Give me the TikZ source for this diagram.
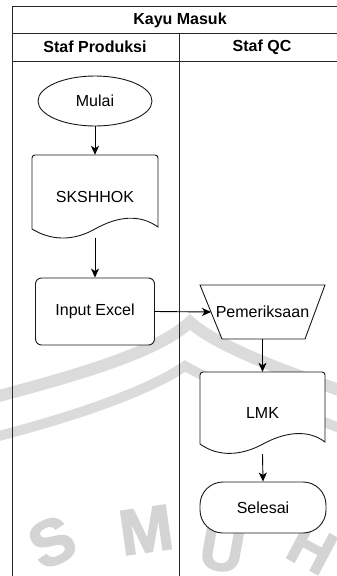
\documentclass[tikz,border=0pt]{standalone}
\usepackage{fontspec}
\setmainfont{Liberation Sans}
\newfontfamily\wmfont[BoldFeatures={FakeBold=2.5}]{Liberation Sans}
\usetikzlibrary{shapes.geometric,arrows.meta}
\begin{document}
\begin{tikzpicture}[x=1pt,y=-1pt,
  every node/.style={font=\fontsize{16}{19}\selectfont, inner sep=2pt},
  hdr/.style={font=\fontsize{16}{19}\selectfont\bfseries},
  lane/.style={line width=1pt, draw=black!85},
  box/.style={draw=black!90, line width=0.9pt, fill=white},
  flow/.style={line width=0.9pt, draw=black, -{Stealth[length=9pt,width=8pt,inset=2.5pt]}},
  wm/.style={draw=black!14, line width=12pt},
  wmtext/.style={text=black!17, inner sep=0pt, font=\wmfont\fontsize{64}{64}\selectfont\bfseries}]
\useasboundingbox (0,0) rectangle (337,576);
% watermark
\begin{scope}
\clip (0,0) rectangle (337,576);
\draw[wm] (-5,397) .. controls (90,372) and (160,350) .. (190,322) .. controls (215,345) and (280,370) .. (345,392);
\draw[wm, line width=10pt] (-5,437) .. controls (80,415) and (150,390) .. (185,366) .. controls (220,386) and (280,405) .. (345,430);
\node[wmtext, rotate=25] (wms) at (52,542) {S};
\node[wmtext, rotate=8] (wmm) at (146,530) {M};
\node[wmtext, rotate=-10, font=\wmfont\fontsize{60}{60}\selectfont\bfseries] (wmu) at (222,550) {U};
\node[wmtext, rotate=-28, font=\wmfont\fontsize{60}{60}\selectfont\bfseries] (wmh) at (312,548) {H};
\end{scope}
% lanes
\draw[lane] (337,6) -- (12,6) -- (12,576);
\draw[lane] (12,33) -- (337,33);
\draw[lane] (12,61) -- (337,61);
\draw[lane] (179,33) -- (179,576);
\node[hdr] (title) at (180,20) {Kayu Masuk};
\node[hdr] (lp) at (95,47) {Staf Produksi};
\node[hdr] (lq) at (262,47) {Staf QC};
% shapes
\node[box, ellipse, minimum width=114pt, minimum height=50pt] (mulai) at (95,101) {Mulai};
\filldraw[box] (32,229) [rounded corners=3pt] -- (32,155) -- (158,155) [sharp corners] -- (158,227)
  .. controls (140,214) and (118,216) .. (95,229) .. controls (72,242) and (50,240) .. (32,229) -- cycle;
\node[minimum width=126pt, minimum height=83pt] (sk) at (95,196.5) {SKSHHOK};
\node[box, rounded corners=6pt, minimum width=119pt, minimum height=67pt] (ie) at (95,311.5) {Input Excel};
\filldraw[box] (200,285) -- (325,285) -- (305,339) -- (222,339) -- cycle;
\coordinate (pemL) at (211,312);
\node[minimum width=100pt, minimum height=54pt] (pem) at (262.5,312) {Pemeriksaan};
\filldraw[box] (200,444) [rounded corners=3pt] -- (200,372) -- (325,372) [sharp corners] -- (325,442)
  .. controls (308,429) and (285,432) .. (263,444) .. controls (241,456) and (218,457) .. (200,444) -- cycle;
\node[minimum width=125pt, minimum height=82pt] (lmk) at (262.5,413) {LMK};
\node[box, rounded corners=23pt, minimum width=126pt, minimum height=51pt] (sel) at (263,507.5) {Selesai};
% connectors
\draw[flow] (mulai.south) -- (sk.north);
\draw[flow] (sk.south) -- (ie.north);
\draw[flow] (ie.east) -- (pemL);
\draw[flow] (pem.south) -- (lmk.north);
\draw[flow] (lmk.south) -- (sel.north);
\end{tikzpicture}
\end{document}
